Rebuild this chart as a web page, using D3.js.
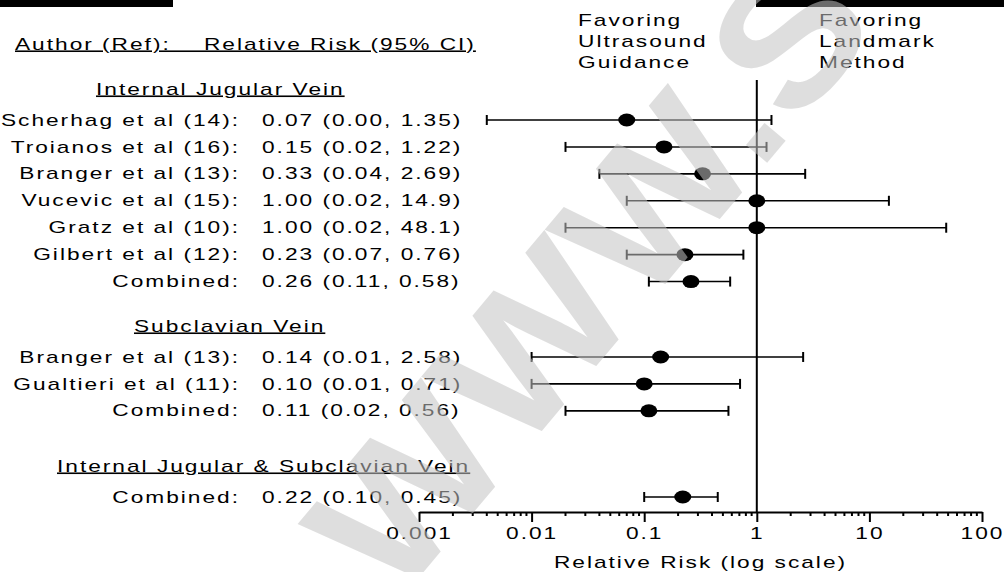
<!DOCTYPE html>
<html>
<head>
<meta charset="utf-8">
<script src="https://cdn.jsdelivr.net/npm/d3@7"></script>
<style>
  body { margin: 0; background: #fff; }
  svg { display: block; }
  text { font-family: "Liberation Sans", Arial, sans-serif; font-size: 16px; letter-spacing: 1.4px; fill: #000; white-space: pre; }
</style>
</head>
<body>
<script>
"use strict";

const width = 1004;
const height = 572;

// Data
const groupNames = ["Internal Jugular Vein", "Subclavian Vein", "Internal Jugular & Subclavian Vein"];
const studyGroup = [0, 0, 0, 0, 0, 0, 0, 1, 1, 1, 2];
const studyNames = [
  "Scherhag et al (14):", "Troianos et al (16):", "Branger et al (13):",
  "Vucevic et al (15):", "Gratz et al (10):", "Gilbert et al (12):", "Combined:",
  "Branger et al (13):", "Gualtieri et al (11):", "Combined:",
  "Combined:"
];
const ciLabels = [
  "0.07 (0.00, 1.35)", "0.15 (0.02, 1.22)", "0.33 (0.04, 2.69)",
  "1.00 (0.02, 14.9)", "1.00 (0.02, 48.1)", "0.23 (0.07, 0.76)", "0.26 (0.11, 0.58)",
  "0.14 (0.01, 2.58)", "0.10 (0.01, 0.71)", "0.11 (0.02, 0.56)",
  "0.22 (0.10, 0.45)"
];
const rr = [0.07, 0.15, 0.33, 1.00, 1.00, 0.23, 0.26, 0.14, 0.10, 0.11, 0.22];
// lower ends as drawn in the figure
const ciLower = [0.004, 0.02, 0.04, 0.07, 0.02, 0.07, 0.11, 0.01, 0.01, 0.02, 0.10];
const ciUpper = [1.35, 1.22, 2.69, 14.9, 48.1, 0.76, 0.58, 2.58, 0.71, 0.56, 0.45];
const tickValues = [0.001, 0.01, 0.1, 1, 10, 100];
const tickLabels = ["0.001", "0.01", "0.1", "1", "10", "100"];

const svg = d3.select("body").append("svg")
  .attr("width", width)
  .attr("height", height);

// scanned figure is stretched sideways, so text gets scaleX
const sx = 1.42;

function label(px, py, s, anchor) {
  return svg.append("text")
    .attr("transform", `translate(${px},${py}) scale(${sx},1)`)
    .attr("text-anchor", anchor || "start")
    .attr("dy", "0.35em")
    .text(s);
}

const x = d3.scaleLog().domain([0.001, 100]).range([419, 982]);
const y = d3.scaleLinear().domain([0, 14]).range([120, 497]);

// row slots: each group starts at a slot, header sits a bit above it
const groupStart = [0, 8.8, 14];
const headerX = [96, 134, 57];
const slot = studyGroup.map((g, i) => {
  const first = studyGroup.indexOf(g);
  return groupStart[g] + (i - first);
});

// black strips at top of scan
svg.append("rect").attr("x", 0).attr("y", 0).attr("width", 173).attr("height", 7).attr("fill", "#000");
svg.append("rect").attr("x", 756).attr("y", 0).attr("width", 248).attr("height", 7).attr("fill", "#000");

// column heading
label(15, 44, "Author (Ref):    Relative Risk (95% CI)").attr("text-decoration", "underline");

label(578, 20, "Favoring");
label(578, 41, "Ultrasound");
label(578, 62, "Guidance");
label(819, 20, "Favoring");
label(819, 41, "Landmark");
label(819, 62, "Method");

groupNames.forEach((name, g) => {
  label(headerX[g], y(groupStart[g] - 1.15), name).attr("text-decoration", "underline");
});

studyNames.forEach((name, i) => {
  label(240, y(slot[i]), name, "end");
  label(262, y(slot[i]), ciLabels[i]);
});

// line of no effect
svg.append("line")
  .attr("x1", x(1)).attr("x2", x(1))
  .attr("y1", 80).attr("y2", 512)
  .attr("stroke", "#000").attr("stroke-width", 2);

// CI bars
const rows = svg.append("g").selectAll("g")
  .data(rr)
  .enter()
  .append("g");

rows.append("line")
  .attr("x1", (d, i) => x(ciLower[i]))
  .attr("x2", (d, i) => x(ciUpper[i]))
  .attr("y1", (d, i) => y(slot[i]))
  .attr("y2", (d, i) => y(slot[i]))
  .attr("stroke", "#000").attr("stroke-width", 1.6);

[ciLower, ciUpper].forEach(arr => {
  rows.append("line")
    .attr("x1", (d, i) => x(arr[i]))
    .attr("x2", (d, i) => x(arr[i]))
    .attr("y1", (d, i) => y(slot[i]) - 5)
    .attr("y2", (d, i) => y(slot[i]) + 5)
    .attr("stroke", "#000").attr("stroke-width", 2);
});

rows.append("ellipse")
  .attr("cx", d => x(d))
  .attr("cy", (d, i) => y(slot[i]))
  .attr("rx", 8.5)
  .attr("ry", 6.5)
  .attr("fill", "#000");

// x axis
const axisY = 512;
const gx = svg.append("g")
  .attr("transform", `translate(0,${axisY})`)
  .call(d3.axisBottom(x)
    .tickValues(tickValues)
    .tickFormat((d, i) => tickLabels[i])
    .tickSize(10)
    .tickSizeOuter(0)
    .tickPadding(6));
gx.select(".domain").attr("stroke-width", 2);
gx.selectAll(".tick line").attr("stroke-width", 2);
gx.selectAll(".tick text")
  .attr("font-size", null)
  .attr("font-family", null)
  .attr("transform", `scale(${sx},1)`);

const minor = [];
for (let e = -3; e < 2; e++) {
  for (let k = 2; k <= 9; k++) minor.push(k * Math.pow(10, e));
}
gx.selectAll(".minor")
  .data(minor)
  .enter()
  .append("line")
  .attr("class", "minor")
  .attr("x1", d => x(d)).attr("x2", d => x(d))
  .attr("y1", 0).attr("y2", 4)
  .attr("stroke", "#000").attr("stroke-width", 2);

svg.append("text")
  .attr("transform", `translate(${(x.range()[0] + x.range()[1]) / 2},568) scale(${sx},1)`)
  .attr("text-anchor", "middle")
  .text("Relative Risk (log scale)");

// faint watermark across the scan
svg.append("text")
  .attr("transform", "translate(395,606) rotate(-50) scale(1.1,1)")
  .style("font-size", "185px")
  .style("font-weight", "bold")
  .style("letter-spacing", "0px")
  .style("fill", "#c4c4c4")
  .style("opacity", 0.55)
  .text("WWW.SC");
</script>
</body>
</html>
